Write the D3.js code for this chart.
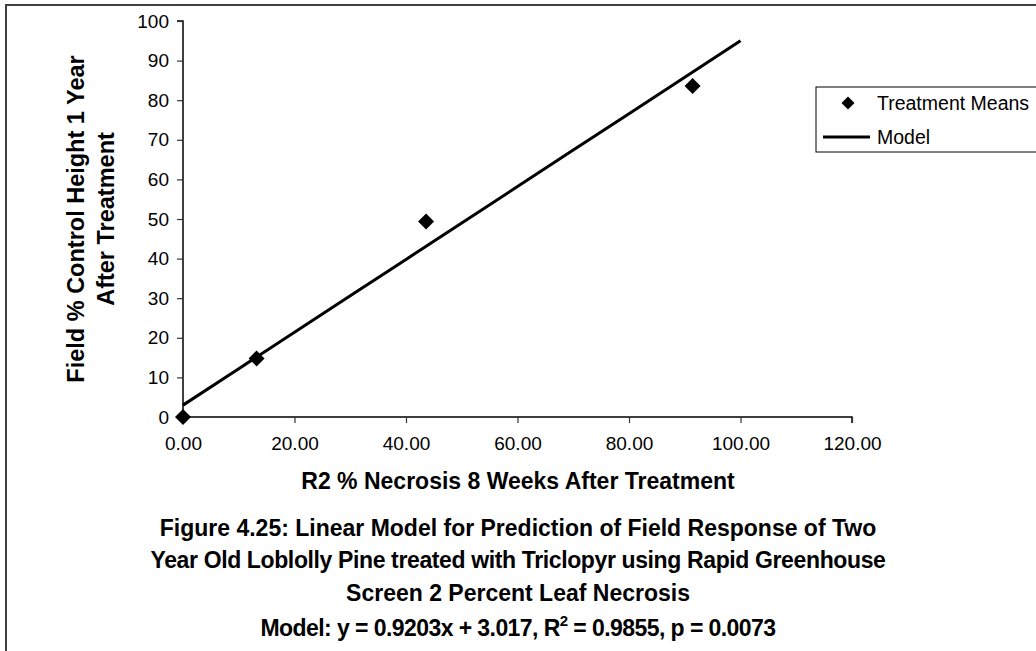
<!DOCTYPE html>
<html>
<head>
<meta charset="utf-8">
<script src="https://cdn.jsdelivr.net/npm/d3@7"></script>
<style>
  html, body { margin: 0; padding: 0; background: #fff; }
  svg { display: block; font-family: "Liberation Sans", Arial, sans-serif; }
</style>
</head>
<body>
<svg id="chart" width="1036" height="651"></svg>
<script>
// ---- data ----
const meansX = [0, 13.2, 43.6, 91.4];
const meansY = [0, 14.8, 49.4, 83.6];
const modelX = [0, 10, 20, 30, 40, 50, 60, 70, 80, 90, 100];
const modelY = [3.0, 12.2, 21.4, 30.6, 39.8, 49.0, 58.2, 67.4, 76.6, 85.8, 95.0];
const xTicks = [0, 20, 40, 60, 80, 100, 120];
const yTicks = [0, 10, 20, 30, 40, 50, 60, 70, 80, 90, 100];
const xTitle = "R2 % Necrosis 8 Weeks After Treatment";
const yTitle = ["Field % Control Height 1 Year", "After Treatment"];
const legendLabels = ["Treatment Means", "Model"];
const captionLines = [
  "Figure 4.25: Linear Model for Prediction of Field Response of Two",
  "Year Old Loblolly Pine treated with Triclopyr using Rapid Greenhouse",
  "Screen 2 Percent Leaf Necrosis"
];

const svg = d3.select("#chart");

// outer frame
svg.append("rect").attr("x", 6).attr("y", 5).attr("width", 1100).attr("height", 700)
  .attr("fill", "none").attr("stroke", "#404040").attr("stroke-width", 2);

const x = d3.scaleLinear().domain([0, 120]).range([183, 852]);
const y = d3.scaleLinear().domain([0, 100]).range([417, 21]);

// axes
const xAxis = d3.axisBottom(x).tickValues(xTicks).tickFormat(d3.format(".2f")).tickSizeInner(6).tickSizeOuter(6).tickPadding(14);
const yAxis = d3.axisLeft(y).tickValues(yTicks).tickFormat(d3.format("d")).tickSizeInner(6).tickSizeOuter(6).tickPadding(8);

const gx = svg.append("g").attr("transform", `translate(0,${y(0)})`).call(xAxis);
const gy = svg.append("g").attr("transform", `translate(${x(0)},0)`).call(yAxis);
[gx, gy].forEach(g => {
  g.select(".domain").attr("stroke", "#000").attr("stroke-width", 1.5);
  g.selectAll(".tick line").attr("stroke", "#333").attr("stroke-width", 1.2);
  g.selectAll(".tick text").attr("fill", "#000").style("font-size", "19px")
    .style("font-family", "'Liberation Sans', Arial, sans-serif");
});
gx.select(".domain").attr("d", `M${x(0)},6V0H${x(120)}V6`);
gy.select(".domain").attr("d", `M-6,${y(100)}H0V${y(0)}`);

// model line
const line = d3.line().x(d => x(d[0])).y(d => y(d[1]));
svg.append("path").datum(d3.zip(modelX, modelY)).attr("d", line)
  .attr("fill", "none").attr("stroke", "#000").attr("stroke-width", 3).attr("stroke-linejoin", "round");

// treatment means
const diamond = "M0,-8L8,0L0,8L-8,0Z";
svg.append("g").selectAll("path").data(d3.zip(meansX, meansY)).join("path")
  .attr("d", diamond).attr("transform", d => `translate(${x(d[0])},${y(d[1])})`).attr("fill", "#000");

// axis titles
svg.append("text").attr("x", 518).attr("y", 489).attr("text-anchor", "middle")
  .style("font-size", "23px").style("font-weight", "bold").text(xTitle);
const yt = svg.append("text").attr("transform", "translate(0,219) rotate(-90)")
  .attr("text-anchor", "middle").style("font-size", "23.5px").style("font-weight", "bold");
yTitle.forEach((t, i) => yt.append("tspan").attr("x", 0).attr("y", 84 + i * 30).text(t));

// legend
svg.append("rect").attr("x", 816).attr("y", 87).attr("width", 300).attr("height", 65)
  .attr("fill", "#fff").attr("stroke", "#000").attr("stroke-width", 1);
svg.append("path").attr("d", "M0,-6.5L6.5,0L0,6.5L-6.5,0Z").attr("transform", "translate(848,103)").attr("fill", "#000");
svg.append("line").attr("x1", 823).attr("x2", 870).attr("y1", 137).attr("y2", 137)
  .attr("stroke", "#000").attr("stroke-width", 3);
svg.append("text").attr("x", 877).attr("y", 110).style("font-size", "19.5px").text(legendLabels[0]);
svg.append("text").attr("x", 877).attr("y", 144).style("font-size", "19.5px").text(legendLabels[1]);

// caption
function fitWidth(sel, target) {
  const node = sel.node();
  const w = node.getComputedTextLength();
  const n = node.textContent.length;
  if (target && n > 1) sel.style("letter-spacing", ((target - w) / n) + "px");
}
const capY = [536, 568, 601];
const capW = [null, 735, null];
captionLines.forEach((t, i) => {
  const s = svg.append("text").attr("x", 518).attr("y", capY[i]).attr("text-anchor", "middle")
    .style("font-size", "23px").style("font-weight", "bold").text(t);
  fitWidth(s, capW[i]);
});
const m = svg.append("text").attr("x", 518).attr("y", 636).attr("text-anchor", "middle")
  .style("font-size", "23px").style("font-weight", "bold");
m.append("tspan").text("Model: y = 0.9203x + 3.017, R");
m.append("tspan").attr("dy", -10).style("font-size", "15px").text("2");
m.append("tspan").attr("dy", 10).text(" = 0.9855, p = 0.0073");
fitWidth(m, 515);
</script>
</body>
</html>
